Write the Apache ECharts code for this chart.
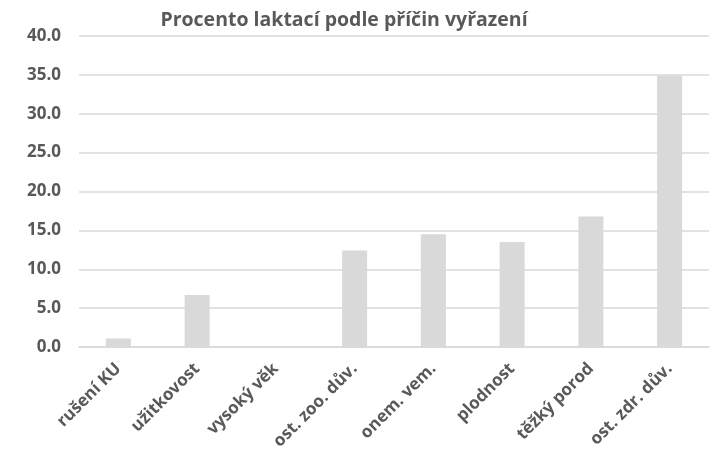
<!DOCTYPE html>
<html>
<head>
<meta charset="utf-8">
<script src="https://cdn.jsdelivr.net/npm/echarts@6/dist/echarts.min.js"></script>
<style>
  html, body { margin: 0; padding: 0; background: #fff; }
  #chart { width: 726px; height: 449px; }
</style>
</head>
<body>
<div id="chart"></div>
<script>
// kategorie a hodnoty
var categories = ['rušení KU', 'užitkovost', 'vysoký věk', 'ost. zoo. dův.', 'onem. vem.', 'plodnost', 'těžký porod', 'ost. zdr. dův.']
var values = [1.1, 6.7, 0, 12.4, 14.5, 13.5, 16.8, 34.9]

var myChart = echarts.init(document.getElementById('chart'))
myChart.setOption({
  animation: false,
  title: {
    text: 'Procento laktací podle příčin vyřazení',
    left: 339,
    textAlign: 'center',
    top: 5,
    textStyle: {
      color: '#595959',
      fontFamily: 'Open Sans',
      fontSize: 19.5,
      fontWeight: 'bold'
    }
  },
  grid: {
    left: 79,
    right: 17,
    top: 36,
    bottom: 102,
    outerBoundsMode: 'none'
  },
  xAxis: {
    type: 'category',
    data: categories,
    axisLine: { lineStyle: { color: '#d9d9d9', width: 1.5 } },
    axisTick: { show: false },
    axisLabel: {
      interval: 0,
      rotate: 45,
      margin: 19,
      color: '#595959',
      fontFamily: 'Open Sans',
      fontSize: 17,
      fontWeight: 'bold'
    }
  },
  yAxis: {
    type: 'value',
    min: 0,
    max: 40,
    interval: 5,
    axisLine: { show: false },
    axisTick: { show: false },
    splitLine: { lineStyle: { color: '#d9d9d9', width: 1.5 } },
    axisLabel: {
      margin: 18,
      color: '#595959',
      fontFamily: 'Open Sans',
      fontSize: 17,
      fontWeight: 'bold',
      formatter: function (v) { return v.toFixed(1) }
    }
  },
  series: [{
    type: 'bar',
    data: values,
    barWidth: 25,
    itemStyle: { color: '#d9d9d9' }
  }]
})
</script>
</body>
</html>
